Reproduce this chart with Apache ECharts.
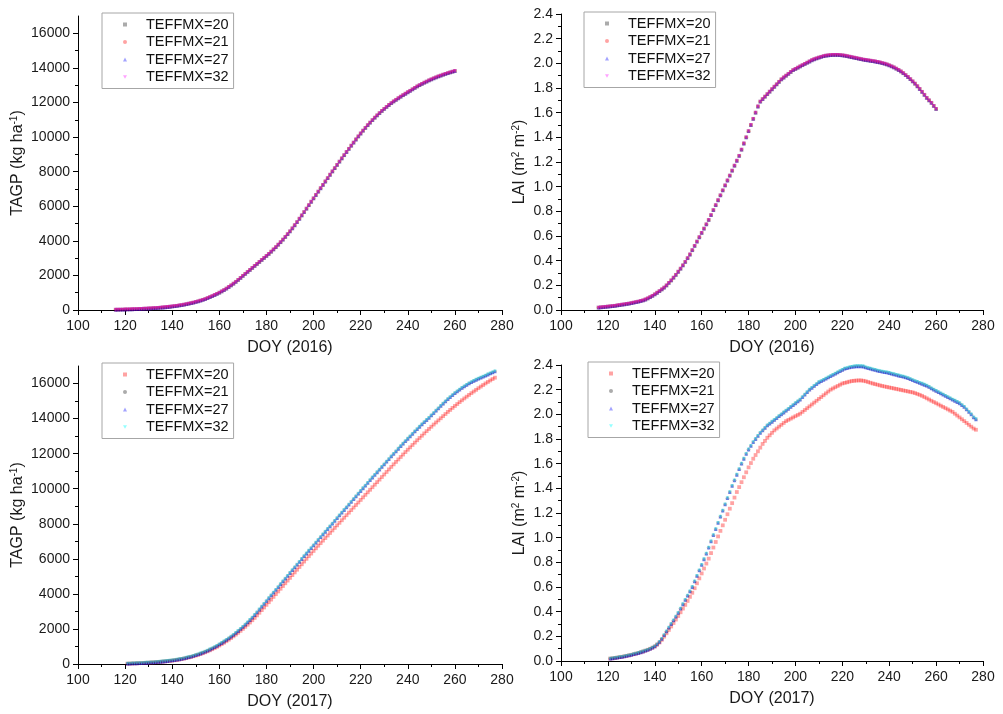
<!DOCTYPE html>
<html>
<head>
<meta charset="utf-8">
<title>TAGP and LAI for different TEFFMX</title>
<script src="https://cdn.jsdelivr.net/npm/echarts@6/dist/echarts.min.js"></script>
<style>
  html, body { margin: 0; padding: 0; background: #fff; }
  #chart { width: 1003px; height: 714px; }
</style>
</head>
<body>
<div id="chart"></div>
<script>
// Simulated daily values, one value per day starting at the given DOY
const doyStart2016 = 116;
const doyStart2017 = 121;

// 2016: all TEFFMX settings give the same result
const tagp2016 = [
  15, 18, 21, 25, 29, 33, 37, 42, 47, 53,
  59, 65, 72, 79, 87, 95, 104, 113, 123, 134,
  146, 159, 173, 188, 204, 222, 241, 262, 285, 310,
  337, 366, 397, 430, 466, 504, 545, 588, 634, 690,
  745, 805, 868, 933, 1000, 1075, 1155, 1240, 1330, 1425,
  1525, 1630, 1740, 1855, 1975, 2090, 2205, 2320, 2435, 2550,
  2665, 2780, 2895, 3010, 3125, 3245, 3370, 3500, 3635, 3775,
  3920, 4070, 4225, 4385, 4550, 4720, 4900, 5085, 5275, 5470,
  5665, 5860, 6060, 6260, 6455, 6650, 6845, 7040, 7235, 7430,
  7625, 7820, 8010, 8200, 8390, 8580, 8765, 8950, 9135, 9320,
  9500, 9680, 9860, 10035, 10205, 10370, 10530, 10685, 10835, 10980,
  11120, 11255, 11385, 11510, 11630, 11745, 11855, 11960, 12060, 12155,
  12245, 12335, 12420, 12505, 12590, 12675, 12760, 12845, 12925, 13000,
  13075, 13145, 13210, 13275, 13335, 13395, 13450, 13505, 13555, 13605,
  13650, 13695, 13740, 13780, 13820
];

const lai2016 = [
  0.020, 0.022, 0.024, 0.026, 0.028, 0.030, 0.032, 0.034, 0.037, 0.040,
  0.043, 0.046, 0.049, 0.052, 0.056, 0.060, 0.064, 0.068, 0.073, 0.078,
  0.085, 0.094, 0.104, 0.115, 0.127, 0.140, 0.153, 0.167, 0.182, 0.199,
  0.220, 0.240, 0.262, 0.285, 0.310, 0.335, 0.362, 0.390, 0.420, 0.450,
  0.485, 0.520, 0.555, 0.590, 0.625, 0.660, 0.695, 0.730, 0.770, 0.810,
  0.850, 0.890, 0.930, 0.970, 1.010, 1.050, 1.090, 1.130, 1.170, 1.210,
  1.250, 1.300, 1.350, 1.400, 1.450, 1.500, 1.550, 1.600, 1.650, 1.690,
  1.710, 1.730, 1.750, 1.770, 1.790, 1.810, 1.830, 1.850, 1.870, 1.885,
  1.900, 1.915, 1.930, 1.945, 1.955, 1.965, 1.975, 1.985, 1.995, 2.005,
  2.015, 2.025, 2.033, 2.040, 2.047, 2.053, 2.058, 2.062, 2.065, 2.067,
  2.068, 2.068, 2.068, 2.067, 2.065, 2.062, 2.058, 2.054, 2.050, 2.046,
  2.042, 2.038, 2.034, 2.030, 2.027, 2.024, 2.021, 2.018, 2.015, 2.011,
  2.007, 2.002, 1.997, 1.991, 1.984, 1.976, 1.967, 1.957, 1.946, 1.934,
  1.920, 1.905, 1.889, 1.872, 1.854, 1.835, 1.814, 1.792, 1.769, 1.745,
  1.720, 1.700, 1.680, 1.655, 1.630
];

// 2017: TEFFMX=20 differs, TEFFMX=21/27/32 coincide
const tagp2017T20 = [
  20, 25, 30, 35, 41, 47, 54, 61, 68, 76,
  85, 94, 104, 114, 125, 137, 150, 164, 179, 195,
  214, 235, 258, 283, 310, 340, 372, 406, 443, 482,
  524, 569, 617, 669, 724, 783, 845, 911, 981, 1055,
  1133, 1214, 1299, 1388, 1481, 1578, 1679, 1784, 1892, 2005,
  2122, 2243, 2368, 2497, 2630, 2775, 2925, 3075, 3225, 3375,
  3525, 3675, 3830, 3985, 4140, 4295, 4450, 4605, 4760, 4915,
  5070, 5225, 5380, 5535, 5690, 5845, 6000, 6150, 6300, 6450,
  6600, 6750, 6895, 7040, 7185, 7330, 7475, 7620, 7765, 7910,
  8055, 8200, 8345, 8490, 8635, 8780, 8925, 9070, 9215, 9360,
  9505, 9650, 9795, 9940, 10085, 10230, 10375, 10520, 10665, 10810,
  10955, 11100, 11245, 11390, 11530, 11670, 11810, 11950, 12090, 12225,
  12360, 12495, 12630, 12765, 12895, 13025, 13155, 13285, 13410, 13535,
  13660, 13780, 13900, 14020, 14140, 14260, 14380, 14495, 14610, 14720,
  14830, 14940, 15045, 15150, 15250, 15350, 15450, 15545, 15640, 15735,
  15825, 15915, 16005, 16090, 16175, 16255, 16335
];

const tagp2017Rest = [
  20, 25, 30, 36, 42, 48, 55, 62, 70, 78,
  87, 96, 106, 117, 129, 142, 156, 171, 188, 206,
  226, 248, 272, 298, 326, 357, 390, 426, 465, 507,
  552, 600, 652, 707, 765, 827, 893, 963, 1037, 1115,
  1197, 1283, 1373, 1467, 1565, 1667, 1773, 1883, 2000, 2120,
  2245, 2375, 2510, 2650, 2795, 2950, 3110, 3270, 3430, 3590,
  3750, 3910, 4070, 4230, 4390, 4550, 4710, 4870, 5030, 5190,
  5350, 5510, 5670, 5830, 5990, 6150, 6305, 6460, 6615, 6770,
  6925, 7080, 7235, 7390, 7545, 7700, 7855, 8010, 8165, 8320,
  8475, 8630, 8785, 8940, 9095, 9250, 9405, 9560, 9715, 9870,
  10025, 10180, 10335, 10490, 10640, 10790, 10940, 11090, 11240, 11390,
  11540, 11690, 11840, 11990, 12135, 12280, 12425, 12570, 12710, 12850,
  12990, 13130, 13265, 13400, 13535, 13665, 13795, 13920, 14045, 14180,
  14315, 14450, 14585, 14720, 14850, 14980, 15105, 15225, 15340, 15450,
  15555, 15655, 15750, 15840, 15925, 16005, 16080, 16150, 16215, 16275,
  16335, 16395, 16455, 16515, 16575, 16635, 16695
];

const lai2017T20 = [
  0.020, 0.022, 0.025, 0.028, 0.031, 0.034, 0.038, 0.042, 0.046, 0.050,
  0.055, 0.060, 0.065, 0.071, 0.077, 0.084, 0.091, 0.099, 0.108, 0.118,
  0.133, 0.150, 0.172, 0.198, 0.225, 0.252, 0.280, 0.308, 0.336, 0.365,
  0.395, 0.425, 0.455, 0.487, 0.520, 0.553, 0.590, 0.630, 0.670, 0.710,
  0.750, 0.790, 0.830, 0.875, 0.920, 0.965, 1.010, 1.055, 1.100, 1.145,
  1.190, 1.235, 1.280, 1.325, 1.370, 1.410, 1.450, 1.490, 1.530, 1.570,
  1.605, 1.640, 1.670, 1.700, 1.730, 1.760, 1.785, 1.810, 1.830, 1.850,
  1.870, 1.885, 1.900, 1.915, 1.930, 1.945, 1.955, 1.965, 1.975, 1.985,
  1.995, 2.005, 2.020, 2.035, 2.050, 2.065, 2.080, 2.095, 2.110, 2.125,
  2.140, 2.155, 2.170, 2.185, 2.200, 2.210, 2.220, 2.230, 2.240, 2.250,
  2.255, 2.260, 2.265, 2.270, 2.272, 2.274, 2.275, 2.275, 2.272, 2.268,
  2.262, 2.256, 2.250, 2.245, 2.240, 2.235, 2.230, 2.226, 2.222, 2.218,
  2.214, 2.210, 2.206, 2.202, 2.198, 2.194, 2.190, 2.186, 2.182, 2.178,
  2.172, 2.165, 2.158, 2.150, 2.140, 2.130, 2.120, 2.110, 2.100, 2.090,
  2.080, 2.070, 2.060, 2.050, 2.040, 2.030, 2.020, 2.005, 1.990, 1.975,
  1.960, 1.945, 1.930, 1.915, 1.900, 1.885, 1.875
];

const lai2017Rest = [
  0.020, 0.022, 0.025, 0.028, 0.031, 0.034, 0.038, 0.042, 0.046, 0.050,
  0.055, 0.060, 0.065, 0.071, 0.077, 0.084, 0.091, 0.099, 0.108, 0.118,
  0.135, 0.155, 0.180, 0.210, 0.240, 0.270, 0.300, 0.330, 0.360, 0.390,
  0.425, 0.460, 0.495, 0.530, 0.565, 0.600, 0.645, 0.690, 0.735, 0.780,
  0.825, 0.870, 0.920, 0.970, 1.020, 1.070, 1.120, 1.170, 1.220, 1.270,
  1.320, 1.370, 1.420, 1.465, 1.510, 1.555, 1.600, 1.640, 1.680, 1.715,
  1.745, 1.775, 1.800, 1.825, 1.850, 1.870, 1.890, 1.910, 1.925, 1.940,
  1.955, 1.970, 1.985, 2.000, 2.015, 2.030, 2.045, 2.060, 2.075, 2.090,
  2.105, 2.120, 2.140, 2.160, 2.180, 2.200, 2.215, 2.230, 2.245, 2.260,
  2.270, 2.280, 2.290, 2.300, 2.310, 2.320, 2.330, 2.340, 2.350, 2.360,
  2.370, 2.375, 2.380, 2.385, 2.388, 2.390, 2.390, 2.390, 2.388, 2.380,
  2.375, 2.370, 2.365, 2.360, 2.355, 2.350, 2.347, 2.343, 2.340, 2.335,
  2.330, 2.325, 2.320, 2.315, 2.310, 2.305, 2.300, 2.293, 2.285, 2.278,
  2.270, 2.263, 2.255, 2.248, 2.240, 2.232, 2.222, 2.210, 2.200, 2.190,
  2.180, 2.170, 2.160, 2.150, 2.140, 2.130, 2.120, 2.110, 2.100, 2.090,
  2.075, 2.060, 2.040, 2.020, 2.000, 1.975, 1.960
];

// Axis ticks and legend entries
const doyTicks = [100, 120, 140, 160, 180, 200, 220, 240, 260, 280];
const tagpTicks = [0, 2000, 4000, 6000, 8000, 10000, 12000, 14000, 16000];
const teffNames = ['TEFFMX=20', 'TEFFMX=21', 'TEFFMX=27', 'TEFFMX=32'];

const FONT = '"Liberation Sans", Arial, Helvetica, sans-serif';
const INV_TRI = 'path://M0,0L10,0L5,9Z';

// per-setting symbol styles for each year
const style2016 = [
  { symbol: 'rect',     color: 'rgba(0,0,0,0.35)',    legend: '#ababab' },
  { symbol: 'circle',   color: 'rgba(255,0,0,0.5)',   legend: '#ffa3a3' },
  { symbol: 'triangle', color: 'rgba(0,0,255,0.45)',  legend: '#a3a3ff' },
  { symbol: INV_TRI,    color: 'rgba(230,0,230,0.5)', legend: '#ffa3ff' }
];
const style2017 = [
  { symbol: 'rect',     color: 'rgba(255,0,0,0.45)',  legend: '#ffa3a3' },
  { symbol: 'circle',   color: 'rgba(0,0,0,0.35)',    legend: '#ababab' },
  { symbol: 'triangle', color: 'rgba(0,0,255,0.5)',   legend: '#a3a3ff' },
  { symbol: INV_TRI,    color: 'rgba(0,255,255,0.45)',legend: '#94ffff' }
];

function toPairs(start, values) {
  return values.map((v, i) => [start + i, v]);
}

const grids = [
  { left: 78,  top: 16,  width: 424, height: 294 },
  { left: 561, top: 14,  width: 422, height: 296 },
  { left: 78,  top: 366, width: 424, height: 298 },
  { left: 561, top: 365, width: 422, height: 296 }
];

function xAxisFor(gridIndex, year) {
  return {
    type: 'value', gridIndex: gridIndex,
    min: 100, max: 280, interval: 20,
    name: 'DOY (' + year + ')', nameLocation: 'middle', nameGap: 30,
    nameTextStyle: { fontFamily: FONT, fontSize: 16, color: '#1a1a1a' },
    axisLine: { show: true, onZero: false, lineStyle: { color: '#000', width: 1 } },
    axisTick: { show: true, length: 5, lineStyle: { color: '#000', width: 1 } },
    minorTick: { show: true, splitNumber: 2, length: 3, lineStyle: { color: '#000', width: 1 } },
    splitLine: { show: false },
    axisLabel: {
      fontFamily: FONT, fontSize: 14, color: '#1a1a1a', margin: 9,
      customValues: doyTicks, formatter: v => String(v)
    }
  };
}

const nameRich = {
  sup: { fontFamily: FONT, fontSize: 10, color: '#1a1a1a', verticalAlign: 'top', lineHeight: 10, padding: [0, 0, 8, 0] }
};

function tagpAxis(gridIndex) {
  return {
    type: 'value', gridIndex: gridIndex,
    min: 0, max: 17000, interval: 2000,
    name: 'TAGP (kg ha{sup|-1})', nameLocation: 'middle', nameGap: 48,
    nameTextStyle: { fontFamily: FONT, fontSize: 16, color: '#1a1a1a', rich: nameRich },
    axisLine: { show: true, onZero: false, lineStyle: { color: '#000', width: 1 } },
    axisTick: { show: true, length: 5, lineStyle: { color: '#000', width: 1 }, customValues: tagpTicks },
    minorTick: { show: true, splitNumber: 2, length: 3, lineStyle: { color: '#000', width: 1 } },
    splitLine: { show: false },
    axisLabel: {
      fontFamily: FONT, fontSize: 14, color: '#1a1a1a', margin: 8,
      customValues: tagpTicks, formatter: v => String(v)
    }
  };
}

function laiAxis(gridIndex) {
  return {
    type: 'value', gridIndex: gridIndex,
    min: 0, max: 2.4, interval: 0.2,
    name: 'LAI (m{sup|2} m{sup|-2})', nameLocation: 'middle', nameGap: 29,
    nameTextStyle: { fontFamily: FONT, fontSize: 16, color: '#1a1a1a', rich: nameRich },
    axisLine: { show: true, onZero: false, lineStyle: { color: '#000', width: 1 } },
    axisTick: { show: true, length: 5, lineStyle: { color: '#000', width: 1 } },
    minorTick: { show: true, splitNumber: 2, length: 3, lineStyle: { color: '#000', width: 1 } },
    splitLine: { show: false },
    axisLabel: {
      fontFamily: FONT, fontSize: 14, color: '#1a1a1a', margin: 8,
      formatter: v => v.toFixed(1)
    }
  };
}

function legendFor(left, top, styles) {
  return {
    orient: 'vertical', left: left, top: top,
    selectedMode: false,
    backgroundColor: '#fff', borderColor: '#a6a6a6', borderWidth: 1, borderRadius: 0,
    padding: [4, 5, 4, 21],
    itemWidth: 4, itemHeight: 4, itemGap: 2.5,
    formatter: n => '{t|' + n + '}',
    textStyle: {
      fontFamily: FONT, fontSize: 14.5, color: '#111',
      rich: { t: { fontFamily: FONT, fontSize: 14.5, color: '#111', lineHeight: 16, padding: [0, 0, 0, 14] } }
    },
    data: teffNames.map((n, i) => ({
      name: n, icon: styles[i].symbol,
      itemStyle: { color: styles[i].legend, opacity: 1 }
    }))
  };
}

function scatter(name, gridIndex, style, start, values) {
  return {
    type: 'scatter', name: name,
    xAxisIndex: gridIndex, yAxisIndex: gridIndex,
    symbol: style.symbol, symbolSize: 3.8,
    itemStyle: { color: style.color },
    emphasis: { disabled: true },
    data: toPairs(start, values)
  };
}

const series = [];
// 2016 panels: the four settings share the same values
teffNames.forEach((n, i) => series.push(scatter(n, 0, style2016[i], doyStart2016, tagp2016)));
teffNames.forEach((n, i) => series.push(scatter(n, 1, style2016[i], doyStart2016, lai2016)));
// 2017 panels
const tagp2017 = [tagp2017T20, tagp2017Rest, tagp2017Rest, tagp2017Rest];
const lai2017 = [lai2017T20, lai2017Rest, lai2017Rest, lai2017Rest];
teffNames.forEach((n, i) => series.push(scatter(n, 2, style2017[i], doyStart2017, tagp2017[i])));
teffNames.forEach((n, i) => series.push(scatter(n, 3, style2017[i], doyStart2017, lai2017[i])));

const chart = echarts.init(document.getElementById('chart'), null, { renderer: 'canvas' });
chart.setOption({
  animation: false,
  backgroundColor: '#fff',
  textStyle: { fontFamily: FONT },
  grid: grids,
  xAxis: [xAxisFor(0, 2016), xAxisFor(1, 2016), xAxisFor(2, 2017), xAxisFor(3, 2017)],
  yAxis: [tagpAxis(0), laiAxis(1), tagpAxis(2), laiAxis(3)],
  legend: [
    legendFor(102, 13, style2016),
    legendFor(584, 12, style2016),
    legendFor(102, 363, style2017),
    legendFor(588, 362, style2017)
  ],
  series: series
});
</script>
</body>
</html>
